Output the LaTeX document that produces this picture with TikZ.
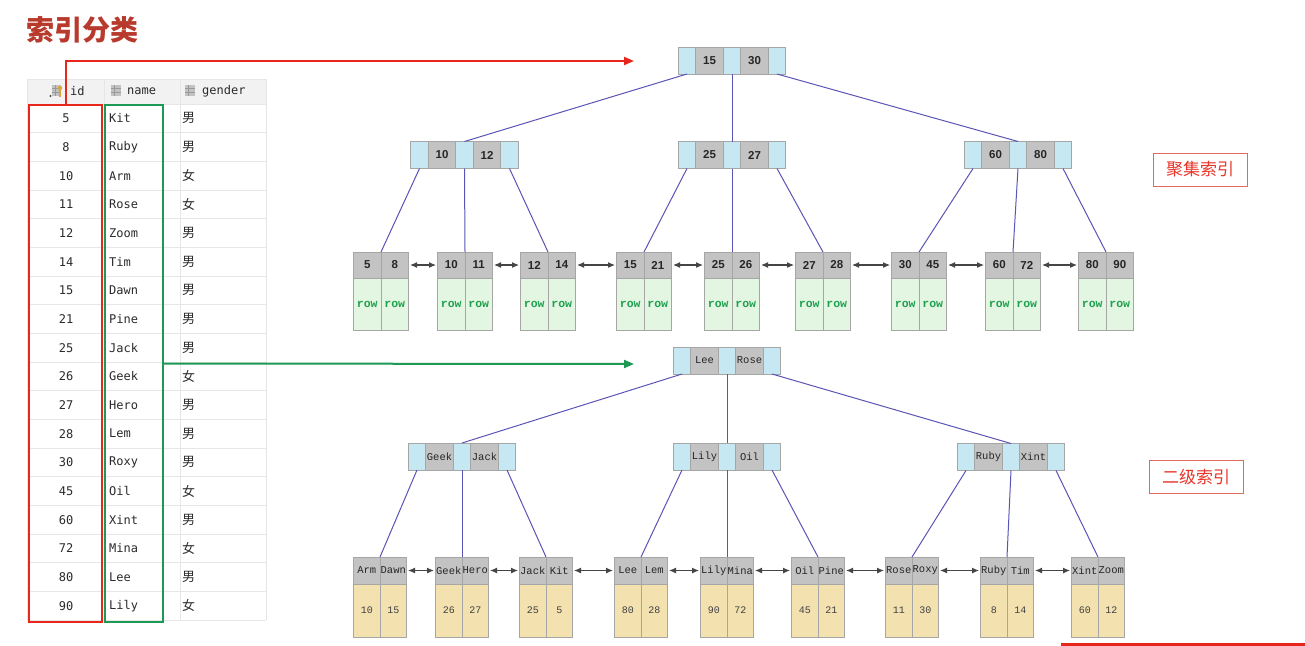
\documentclass[tikz,border=0pt]{standalone}
\usepackage{fontspec}
\setmainfont{Liberation Sans}
\newfontfamily\cjk{Noto Sans CJK SC}
\newfontfamily\tabmono{DejaVu Sans Mono}
\newfontfamily\cour{Liberation Mono}
\usetikzlibrary{arrows.meta}
\definecolor{ptrblue}{HTML}{C6E8F3}
\definecolor{keygrey}{HTML}{C3C3C3}
\definecolor{cellborder}{HTML}{A6A6A6}
\definecolor{rowgreen}{HTML}{E3F6E1}
\definecolor{rowtext}{HTML}{1FA04F}
\definecolor{datawheat}{HTML}{F3E1AF}
\definecolor{edgeblue}{HTML}{5A55B5}
\definecolor{linkgrey}{HTML}{454545}
\definecolor{titlered}{HTML}{B83A2C}
\definecolor{idred}{HTML}{E8261C}
\definecolor{namegreen}{HTML}{1C9A55}
\definecolor{labelred}{HTML}{E8352A}
\definecolor{labelborder}{HTML}{E06A62}
\definecolor{gridgrey}{HTML}{E6E6E6}
\definecolor{headbg}{HTML}{F2F2F2}
\definecolor{tabtext}{HTML}{2B2B2B}
\definecolor{icongrey}{HTML}{9A9A9A}
\definecolor{icongold}{HTML}{D9A53A}
\tikzset{
  cell/.style={draw=cellborder, line width=0.9pt, inner sep=0pt, outer sep=0pt, minimum height=27pt},
  ptr/.style={cell, fill=ptrblue, minimum width=17.5pt},
  key/.style={cell, fill=keygrey, minimum width=27.5pt},
  topkey/.style={font=\bfseries\fontsize{11.5}{12}\selectfont, text=black!85},
  seckey/.style={font=\cour\fontsize{10.5}{12}\selectfont, text=black!85},
  tophead/.style={cell, fill=keygrey, minimum width=27.5pt, minimum height=26pt, font=\bfseries\fontsize{11.5}{12}\selectfont, text=black!85},
  topbody/.style={cell, fill=rowgreen, minimum width=27.5pt, minimum height=52pt, font=\cour\bfseries\fontsize{11.5}{12}\selectfont, text=rowtext},
  sechead/.style={cell, fill=keygrey, minimum width=26.5pt, minimum height=27pt, font=\cour\fontsize{10.5}{12}\selectfont, text=black!85},
  secbody/.style={cell, fill=datawheat, minimum width=26.5pt, minimum height=53pt, font=\cour\fontsize{10}{12}\selectfont, text=black!75},
  edge/.style={draw=edgeblue, line width=1pt},
  link/.style={draw=linkgrey, line width=1.1pt, {Latex[length=7pt,width=6pt]}-{Latex[length=7pt,width=6pt]}, shorten <=1.5pt, shorten >=1.5pt},
  tabtxt/.style={inner sep=0pt, text=tabtext, font=\tabmono\fontsize{12}{14}\selectfont},
  tabcjk/.style={inner sep=0pt, text=tabtext, font=\cjk\fontsize{13}{14}\selectfont},
  lbl/.style={draw=labelborder, line width=1pt, text=labelred, font=\cjk\fontsize{17}{20}\selectfont, minimum width=94pt, minimum height=33pt, inner sep=0pt},
}
\newcommand\inode[6]{%
  \node[ptr] (#2-p1) at ({#3-45},#4) {};
  \node[key,#1] (#2-k1) at ({#3-22.5},#4) {#5};
  \node[ptr] (#2-p2) at (#3,#4) {};
  \node[key,#1] (#2-k2) at ({#3+22.5},#4) {#6};
  \node[ptr] (#2-p3) at ({#3+45},#4) {};
}
\newcommand\leafbox[8]{%
  \node[#1head, anchor=north east] (#2-a) at (#3,#4) {#5};
  \node[#1head, anchor=north west] (#2-b) at (#3,#4) {#6};
  \node[#1body, anchor=north] (#2-c) at (#2-a.south) {#7};
  \node[#1body, anchor=north] (#2-d) at (#2-b.south) {#8};
}
\begin{document}
\begin{tikzpicture}[x=1pt,y=-1pt]
\useasboundingbox (0,0) rectangle (1305,645);
\fill[white] (0,0) rectangle (1305,645);

% title
\node[anchor=west, inner sep=0pt, text=titlered, font=\cjk\bfseries\fontsize{28}{30}\selectfont] (title) at (26,30) {索引分类};

% table
\fill[headbg] (27,79) rectangle (266,104);
\foreach \k in {0,...,18} \draw[gridgrey, line width=0.8pt] (27,{104+28.67*\k}) -- (266,{104+28.67*\k});
\draw[gridgrey, line width=0.8pt] (27,79) -- (266,79);
\foreach \xx in {27,104,180,266} \draw[gridgrey, line width=0.8pt] (\xx,79) -- (\xx,620);
% header icons
\fill[icongrey!60] (52,85) rectangle (61,96);
\draw[icongrey, line width=0.6pt] (52,88.5) -- (61,88.5) (52,92) -- (61,92) (55,85) -- (55,96);
\fill[icongold] (60,88) circle (2.2pt);
\fill[icongold] (59.2,89) rectangle (60.8,97);
\fill[black!70] (50.5,96) circle (1.2pt);
\fill[icongrey!60] (111,85) rectangle (121,96);
\draw[icongrey, line width=0.6pt] (111,88.5) -- (121,88.5) (111,92) -- (121,92) (114.5,85) -- (114.5,96);
\fill[icongrey!60] (185,85) rectangle (195,96);
\draw[icongrey, line width=0.6pt] (185,88.5) -- (195,88.5) (185,92) -- (195,92) (188.5,85) -- (188.5,96);
\node[tabtxt, anchor=west] (hid) at (70,91.5) {id};
\node[tabtxt, anchor=west] (hname) at (127,91.5) {name};
\node[tabtxt, anchor=west] (hgender) at (202,91.5) {gender};
\foreach \idv/\nm/\gd [count=\i from 0] in {5/Kit/男,8/Ruby/男,10/Arm/女,11/Rose/女,12/Zoom/男,14/Tim/男,15/Dawn/男,21/Pine/男,25/Jack/男,26/Geek/女,27/Hero/男,28/Lem/男,30/Roxy/男,45/Oil/女,60/Xint/男,72/Mina/女,80/Lee/男,90/Lily/女}{
  \node[tabtxt] (id\i) at (66,{118.3+28.67*\i}) {\idv};
  \node[tabtxt, anchor=west] (nm\i) at (109,{118.3+28.67*\i}) {\nm};
  \node[tabcjk, anchor=west] (gd\i) at (182,{118.3+28.67*\i}) {\gd};
}
\node[draw=idred, line width=2.2pt, minimum width=73pt, minimum height=517pt, inner sep=0pt, outer sep=0pt, anchor=north west] (idbox) at (29,105) {};
\node[draw=namegreen, line width=2.2pt, minimum width=58pt, minimum height=517pt, inner sep=0pt, outer sep=0pt, anchor=north west] (namebox) at (105,105) {};
\coordinate (redend) at (634,61);
\coordinate (greenend) at (634,364);
\draw[idred, line width=2pt, -{Triangle[length=10pt,width=8pt]}] (idbox.north) |- (redend);
\draw[namegreen, line width=2pt, -{Triangle[length=10pt,width=8pt]}] (namebox.east) -- (greenend);

% clustered index tree
\inode{topkey}{T0}{732}{60.5}{15}{30}
\inode{topkey}{T1}{464.5}{155}{10}{12}
\inode{topkey}{T2}{732}{155}{25}{27}
\inode{topkey}{T3}{1018}{155}{60}{80}
\leafbox{top}{A1}{381}{252}{5}{8}{row}{row}
\leafbox{top}{A2}{465}{252}{10}{11}{row}{row}
\leafbox{top}{A3}{548}{252}{12}{14}{row}{row}
\leafbox{top}{A4}{644}{252}{15}{21}{row}{row}
\leafbox{top}{A5}{732}{252}{25}{26}{row}{row}
\leafbox{top}{A6}{823}{252}{27}{28}{row}{row}
\leafbox{top}{A7}{919}{252}{30}{45}{row}{row}
\leafbox{top}{A8}{1013}{252}{60}{72}{row}{row}
\leafbox{top}{A9}{1106}{252}{80}{90}{row}{row}
\draw[edge] (T0-p1.south) -- (T1-p2.north);
\draw[edge] (T0-p2.south) -- (T2-p2.north);
\draw[edge] (T0-p3.south) -- (T3-p2.north);
\draw[edge] (T1-p1.south) -- (A1-a.north east);
\draw[edge] (T1-p2.south) -- (A2-a.north east);
\draw[edge] (T1-p3.south) -- (A3-a.north east);
\draw[edge] (T2-p1.south) -- (A4-a.north east);
\draw[edge] (T2-p2.south) -- (A5-a.north east);
\draw[edge] (T2-p3.south) -- (A6-a.north east);
\draw[edge] (T3-p1.south) -- (A7-a.north east);
\draw[edge] (T3-p2.south) -- (A8-a.north east);
\draw[edge] (T3-p3.south) -- (A9-a.north east);
\foreach \u/\v in {1/2,2/3,3/4,4/5,5/6,6/7,7/8,8/9} \draw[link] (A\u-b.east) -- (A\v-a.west);

% secondary index tree
\inode{seckey}{S0}{727}{360.5}{Lee}{Rose}
\inode{seckey}{S1}{462}{456.5}{Geek}{Jack}
\inode{seckey}{S2}{727}{456.5}{Lily}{Oil}
\inode{seckey}{S3}{1011}{457}{Ruby}{Xint}
\leafbox{sec}{B1}{380}{557}{Arm}{Dawn}{10}{15}
\leafbox{sec}{B2}{462}{557}{Geek}{Hero}{26}{27}
\leafbox{sec}{B3}{546}{557}{Jack}{Kit}{25}{5}
\leafbox{sec}{B4}{641}{557}{Lee}{Lem}{80}{28}
\leafbox{sec}{B5}{727}{557}{Lily}{Mina}{90}{72}
\leafbox{sec}{B6}{818}{557}{Oil}{Pine}{45}{21}
\leafbox{sec}{B7}{912}{557}{Rose}{Roxy}{11}{30}
\leafbox{sec}{B8}{1007}{557}{Ruby}{Tim}{8}{14}
\leafbox{sec}{B9}{1098}{557}{Xint}{Zoom}{60}{12}
\draw[edge] (S0-p1.south) -- (S1-p2.north);
\draw[edge] (S0-p2.south) -- (S2-p2.north);
\draw[edge] (S0-p3.south) -- (S3-p2.north);
\draw[edge] (S1-p1.south) -- (B1-a.north east);
\draw[edge] (S1-p2.south) -- (B2-a.north east);
\draw[edge] (S1-p3.south) -- (B3-a.north east);
\draw[edge] (S2-p1.south) -- (B4-a.north east);
\draw[edge] (S2-p2.south) -- (B5-a.north east);
\draw[edge] (S2-p3.south) -- (B6-a.north east);
\draw[edge] (S3-p1.south) -- (B7-a.north east);
\draw[edge] (S3-p2.south) -- (B8-a.north east);
\draw[edge] (S3-p3.south) -- (B9-a.north east);
\foreach \u/\v in {1/2,2/3,3/4,4/5,5/6,6/7,7/8,8/9} \draw[link] (B\u-b.east) -- (B\v-a.west);

% labels
\node[lbl] (clab) at (1200,169.5) {聚集索引};
\node[lbl] (slab) at (1196,477) {二级索引};

% red edge at the bottom
\coordinate (bl) at (1061,644);
\coordinate (br) at (1305,644);
\draw[idred, line width=3pt] (bl) -- (br);
\end{tikzpicture}
\end{document}
